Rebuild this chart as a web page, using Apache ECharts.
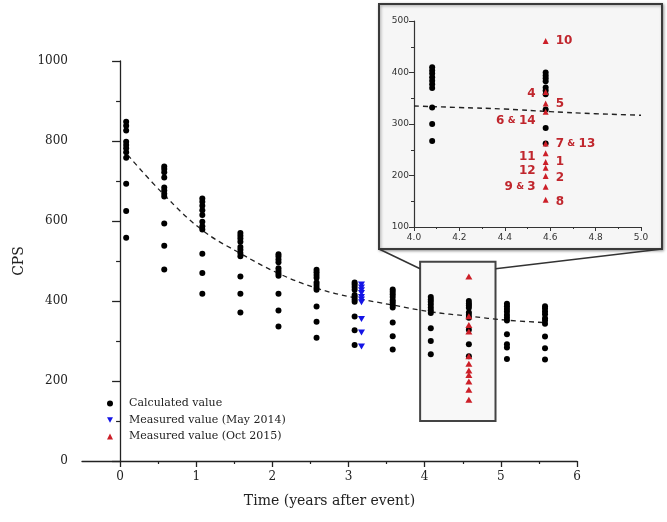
<!DOCTYPE html>
<html>
<head>
<meta charset="utf-8">
<script src="https://cdn.jsdelivr.net/npm/echarts@6/dist/echarts.min.js"></script>
<style>
html,body{margin:0;padding:0;background:#fff;}
#chart{width:667px;height:522px;}
</style>
</head>
<body>
<div id="chart"></div>
<script>
// calculated columns: time (years after event) and CPS values at each time
var calcTimes = [0.08, 0.58, 1.08, 1.58, 2.08, 2.58, 3.08, 3.58, 4.08, 4.58, 5.08, 5.58];
var calcValues = [
  [848, 838, 826, 798, 790, 782, 772, 758, 693, 625, 558],
  [736, 730, 722, 709, 684, 676, 668, 661, 594, 538, 479],
  [656, 648, 638, 627, 615, 598, 587, 579, 518, 470, 418],
  [570, 563, 556, 548, 535, 528, 520, 512, 461, 418, 371],
  [517, 511, 504, 497, 482, 475, 469, 463, 418, 376, 336],
  [478, 472, 465, 458, 446, 440, 433, 428, 386, 348, 308],
  [446, 441, 435, 428, 415, 410, 404, 398, 361, 327, 290],
  [429, 423, 417, 410, 402, 396, 390, 384, 346, 312, 279],
  [410, 404, 398, 391, 384, 377, 370, 332, 300, 267],
  [400, 394, 389, 383, 371, 365, 358, 328, 292, 262],
  [393, 387, 380, 373, 365, 358, 351, 317, 292, 284, 255],
  [387, 381, 374, 367, 357, 351, 343, 311, 282, 254]
];
// measured May 2014
var mayTime = 3.17;
var mayValues = [441, 434, 427, 420, 410, 404, 397, 355, 321, 286];
// measured Oct 2015 (with spot numbers shown in the inset)
var octTime = 4.58;
var octValues = [461, 362, 340, 324, 262, 243, 226, 215, 199, 178, 153];
var octLabels = ['10', '4', '5', '6 & 14', '7 & 13', '11', '1', '12', '2', '9 & 3', '8'];
// fitted curve (dashed)
var fitTimes = [0.1, 0.58, 1.08, 1.58, 2.08, 2.58, 3.08, 3.58, 4.08, 4.58, 5.08, 5.58];
var fitValues = [765, 665, 577, 519, 469, 432, 408, 390, 373, 362, 352, 346];
// dashed line as drawn in the inset
var insetFitTimes = [4.0, 4.2, 4.4, 4.6, 4.8, 5.0];
var insetFitValues = [335, 332, 329, 324, 320, 317];
// ticks
var xMajorTicks = [0, 1, 2, 3, 4, 5, 6];
var xMinorTicks = [0.5, 1.5, 2.5, 3.5, 4.5, 5.5];
// zoomed region of the main plot [t0, t1], [v0, v1]
var zoomT = [3.94, 4.93];
var zoomV = [100, 498];

var calcData = [];
calcTimes.forEach(function (t, i) {
  calcValues[i].forEach(function (v) { calcData.push([t, v]); });
});
var mayData = mayValues.map(function (v) { return [mayTime, v]; });
var octData = octValues.map(function (v) { return [octTime, v]; });
var fitData = fitTimes.map(function (t, i) { return [t, fitValues[i]]; });
var insetCalc = calcData.filter(function (d) { return d[0] >= 4 && d[0] <= 5; });
var insetFit = insetFitTimes.map(function (t, i) { return [t, insetFitValues[i]]; });

// label placement in the inset (side, vertical nudge in px)
var labelSide = ['right', 'left', 'right', 'left', 'right', 'left', 'right', 'left', 'right', 'left', 'right'];
var labelNudge = [0, 2, 0, 9, 0, 4, 0, 3, 2, 0, 2];
var insetOct = octData.map(function (d, i) {
  var parts = octLabels[i].split(' & ');
  var txt = parts.length > 1 ? '{n|' + parts[0] + '} {a|&} {n|' + parts[1] + '}' : '{n|' + parts[0] + '}';
  return {
    value: d,
    label: {
      show: true,
      position: labelSide[i],
      distance: 7,
      offset: [0, labelNudge[i]],
      formatter: txt
    }
  };
});

var RED = '#cc1f28';
var BLUE = '#1414e6';
var SERIF = 'DejaVu Serif';
var downTri = 'path://M0,0L10,0L5,9Z';

var chart = echarts.init(document.getElementById('chart'));
var option = {
  animation: false,
  backgroundColor: '#ffffff',
  grid: [
    {left: 82, top: 61, width: 495, height: 400},
    {left: 414, top: 21, width: 227, height: 206}
  ],
  legend: {
    data: ['Calculated value', 'Measured value (May 2014)', 'Measured value (Oct 2015)'],
    orient: 'vertical',
    left: 102,
    top: 393,
    itemWidth: 6,
    itemHeight: 6,
    itemGap: 5.5,
    textStyle: {fontFamily: SERIF, fontSize: 11, color: '#222', padding: [0, 0, 0, 11]}
  },
  xAxis: [
    {
      gridIndex: 0, type: 'value', min: -0.5, max: 6,
      name: 'Time (years after event)', nameLocation: 'middle', nameGap: 33,
      nameTextStyle: {fontFamily: SERIF, fontSize: 14, color: '#222'},
      axisLine: {lineStyle: {color: '#222', width: 1.3}},
      axisTick: {show: true, length: 6, customValues: xMajorTicks, lineStyle: {color: '#222', width: 1.3}},
      axisLabel: {customValues: xMajorTicks, fontFamily: SERIF, fontSize: 12, color: '#222', margin: 10},
      splitLine: {show: false}
    },
    {
      gridIndex: 0, type: 'value', min: -0.5, max: 6, position: 'bottom',
      axisLine: {show: false},
      axisTick: {show: true, length: 3, customValues: xMinorTicks, lineStyle: {color: '#222', width: 1.2}},
      axisLabel: {show: false},
      splitLine: {show: false}
    },
    {
      gridIndex: 1, type: 'value', min: 4.0, max: 5.0, interval: 0.2,
      axisLine: {lineStyle: {color: '#333', width: 1.2}},
      axisTick: {length: 4, lineStyle: {color: '#333'}},
      minorTick: {show: true, splitNumber: 2, length: 2, lineStyle: {color: '#333'}},
      axisLabel: {fontFamily: 'DejaVu Sans', fontSize: 9, color: '#333', margin: 6,
        formatter: function (v) { return v.toFixed(1); }},
      splitLine: {show: false}
    }
  ],
  yAxis: [
    {
      gridIndex: 0, type: 'value', min: 0, max: 1000, interval: 200,
      name: 'CPS', nameLocation: 'middle', nameGap: 53, nameRotate: 90,
      nameTextStyle: {fontFamily: SERIF, fontSize: 14, color: '#222'},
      axisLine: {show: true, lineStyle: {color: '#222', width: 1.3}},
      axisTick: {show: true, length: 8, lineStyle: {color: '#222', width: 1.3}},
      minorTick: {show: true, splitNumber: 2, length: 4, lineStyle: {color: '#222', width: 1.2}},
      axisLabel: {fontFamily: SERIF, fontSize: 12, color: '#222', margin: 14,
        formatter: function (v) { return String(v); }},
      splitLine: {show: false}
    },
    {
      gridIndex: 1, type: 'value', min: 100, max: 500, interval: 100,
      axisLine: {show: true, lineStyle: {color: '#333', width: 1.2}},
      axisTick: {show: true, length: 5, lineStyle: {color: '#333'}},
      minorTick: {show: true, splitNumber: 2, length: 3, lineStyle: {color: '#333'}},
      axisLabel: {fontFamily: 'DejaVu Sans', fontSize: 9, color: '#333', margin: 5},
      splitLine: {show: false}
    }
  ],
  series: [
    {
      name: 'fit', type: 'line', xAxisIndex: 0, yAxisIndex: 0, data: fitData,
      smooth: 0.4, showSymbol: false, z: 1,
      lineStyle: {color: '#222', width: 1.3, type: [5, 4]}
    },
    {
      name: 'Calculated value', type: 'scatter', xAxisIndex: 0, yAxisIndex: 0,
      data: calcData, symbol: 'circle', symbolSize: 6, itemStyle: {color: '#000', opacity: 1}
    },
    {
      name: 'Measured value (May 2014)', type: 'scatter', xAxisIndex: 0, yAxisIndex: 0,
      data: mayData, symbol: downTri, symbolSize: [7, 6], itemStyle: {color: BLUE, opacity: 1}
    },
    {
      name: 'Measured value (Oct 2015)', type: 'scatter', xAxisIndex: 0, yAxisIndex: 0,
      data: octData, symbol: 'triangle', symbolSize: [7, 6], itemStyle: {color: RED, opacity: 1}
    },
    {
      name: 'inset fit', type: 'line', xAxisIndex: 2, yAxisIndex: 1, data: insetFit,
      smooth: true, showSymbol: false, z: 3,
      lineStyle: {color: '#222', width: 1.4, type: [5, 4]}
    },
    {
      name: 'inset calc', type: 'scatter', xAxisIndex: 2, yAxisIndex: 1,
      data: insetCalc, symbol: 'circle', symbolSize: 6, itemStyle: {color: '#000', opacity: 1}, z: 4
    },
    {
      name: 'inset oct', type: 'scatter', xAxisIndex: 2, yAxisIndex: 1,
      data: insetOct, symbol: 'triangle', symbolSize: [6, 6], itemStyle: {color: RED, opacity: 1}, z: 5,
      label: {
        color: RED,
        rich: {
          n: {fontFamily: 'DejaVu Sans', fontWeight: 'bold', fontSize: 12, color: '#c0262d'},
          a: {fontFamily: 'DejaVu Sans', fontWeight: 'bold', fontSize: 9, color: '#c0262d'}
        }
      }
    }
  ]
};
chart.setOption(option);

// inset frame, zoom box and connector lines
var p0 = chart.convertToPixel({xAxisIndex: 0, yAxisIndex: 0}, [zoomT[0], zoomV[1]]);
var p1 = chart.convertToPixel({xAxisIndex: 0, yAxisIndex: 0}, [zoomT[1], zoomV[0]]);
var box = {x: 379, y: 4, w: 283, h: 245};
chart.setOption({
  graphic: [
    {
      type: 'rect', z: 0,
      shape: {x: box.x, y: box.y, width: box.w, height: box.h},
      style: {fill: '#f6f6f6', stroke: '#3a3a3a', lineWidth: 2,
        shadowColor: 'rgba(0,0,0,0.35)', shadowBlur: 3, shadowOffsetX: 1, shadowOffsetY: 1}
    },
    {
      type: 'rect', z: 0,
      shape: {x: p0[0], y: p0[1], width: p1[0] - p0[0], height: p1[1] - p0[1]},
      style: {fill: '#f8f8f8', stroke: '#444', lineWidth: 2}
    },
    {
      type: 'line', z: 0,
      shape: {x1: box.x, y1: box.y + box.h, x2: p0[0], y2: p0[1] + 7},
      style: {stroke: '#333', lineWidth: 1.5}
    },
    {
      type: 'line', z: 0,
      shape: {x1: box.x + box.w, y1: box.y + box.h, x2: p1[0], y2: p0[1] + 7},
      style: {stroke: '#333', lineWidth: 1.5}
    }
  ]
});
</script>
</body>
</html>
